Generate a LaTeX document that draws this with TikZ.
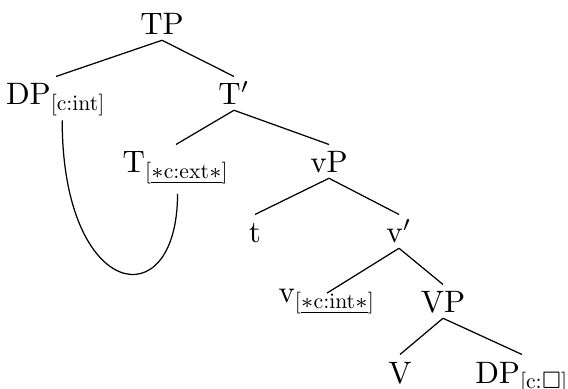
\documentclass[tikz,border=0pt]{standalone}
\usepackage{amsmath,amssymb}
\usepackage{tikz}

\font\ftsub=cmr10 at 7pt
\newcommand{\ftr}[1]{\text{\ftsub #1}}

\begin{document}
\begin{tikzpicture}[
x=0.3226pt, y=-0.3226pt,
lab/.style={inner sep=0pt, anchor=base, text height=0.9em, text depth=0.15em},
]
\useasboundingbox (0,0) rectangle (568,389);

\node[lab] (TP) at (162,35) {TP};
\node[lab] (DPint) at (56,105) {DP$_{\ftr{[c:int]}}$};
\node[lab] (Tbar) at (234,105) {T$'$};
\node[lab] (Text) at (176,173) {T$_{\ftr{[}\underline{\ast\ftr{c:ext}\ast}\ftr{]}}$};
\node[lab] (vP) at (329,173) {vP};
\node[lab] (t) at (255,243) {t};
\node[lab] (vbar) at (399,243) {v$'$};
\node[lab, text height=0.3em] (vint) at (327,303) {v$_{\ftr{[}\underline{\ast\ftr{c:int}\ast}\ftr{]}}$};
\node[lab] (VP) at (443,313) {VP};
\node[lab] (V) at (400,383) {V};
\node[lab] (DPbox) at (522,383) {DP$_{\ftr{[c:}\square\ftr{]}}$};

\path
(TP.south) edge (DPint.north)
(TP.south) edge (Tbar.north)
(Tbar.south) edge (Text.north)
(Tbar.south) edge (vP.north)
(vP.south) edge (t.north)
(vP.south) edge (vbar.north)
(vbar.south) edge (vint.north)
(vbar.south) edge (VP.north)
(VP.south) edge (V.north)
(VP.south) edge (DPbox.north)
;

% feature link
\draw ([xshift=2pt,yshift=-3.3pt]DPint.south) .. controls +(0,180) and +(0,126) .. ([xshift=0.5pt,yshift=-5pt]Text.south);
\end{tikzpicture}
\end{document}
